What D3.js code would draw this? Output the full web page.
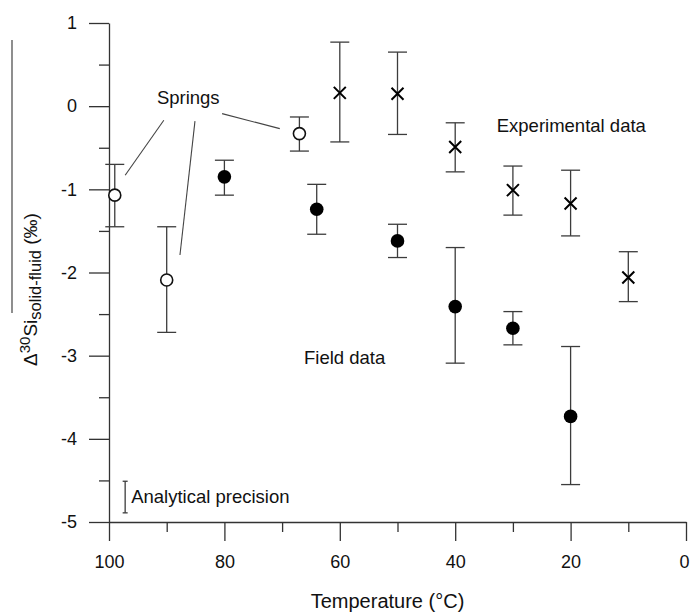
<!DOCTYPE html>
<html>
<head>
<meta charset="utf-8">
<script src="https://cdn.jsdelivr.net/npm/d3@7"></script>
<style>
  body { margin: 0; background: #fff; }
  svg { font-family: "Liberation Sans", Arial, sans-serif; }
</style>
</head>
<body>
<script>
// Springs (open circles)
const springT = [99, 90, 67];
const springV = [-1.07, -2.09, -0.33];
const springHi = [-0.70, -1.45, -0.13];
const springLo = [-1.45, -2.72, -0.54];

// Field data (filled circles)
const fieldT = [80, 64, 50, 40, 30, 20];
const fieldV = [-0.85, -1.24, -1.62, -2.41, -2.67, -3.73];
const fieldHi = [-0.65, -0.94, -1.42, -1.70, -2.47, -2.89];
const fieldLo = [-1.07, -1.54, -1.82, -3.09, -2.87, -4.55];

// Experimental data (crosses)
const expT = [60, 50, 40, 30, 20, 10];
const expV = [0.16, 0.15, -0.49, -1.01, -1.17, -2.06];
const expHi = [0.77, 0.65, -0.20, -0.72, -0.77, -1.75];
const expLo = [-0.43, -0.34, -0.79, -1.31, -1.56, -2.35];

// ticks
const xMajor = [100, 80, 60, 40, 20, 0];
const xMinor = [90, 70, 50, 30, 10];
const yMajor = [1, 0, -1, -2, -3, -4, -5];
const yMinor = [0.5, -0.5, -1.5, -2.5, -3.5, -4.5];

// annotations, in data units
const springsLabel = { t: 91.7, v: 0.03, text: 'Springs' };
const springLeaders = [
    [[90.5, -0.17], [97.2, -0.83]],
    [[85.1, -0.18], [87.7, -1.79]],
    [[80.4, -0.09], [70.4, -0.27]],
];
const expLabel = { t: 32.8, v: -0.31, text: 'Experimental data' };
const fieldLabel = { t: 66.2, v: -3.10, text: 'Field data' };
const precision = { t: 97.2, hi: -4.51, lo: -4.89, text: 'Analytical precision' };

const width = 690, height = 614;
const margin = { left: 109, right: 4, top: 23, bottom: 92 };

const svg = d3.select('body').append('svg')
    .attr('width', width)
    .attr('height', height);

const x = d3.scaleLinear().domain([100, 0]).range([margin.left, width - margin.right]);
const y = d3.scaleLinear().domain([-5, 1]).range([height - margin.bottom, margin.top]);

const axisColor = '#333';
const barColor = '#3c3c3c';

// x axis
const gx = svg.append('g')
    .attr('transform', `translate(0,${y(-5)})`)
    .call(d3.axisBottom(x).tickValues(xMajor).tickSize(19).tickSizeOuter(0).tickPadding(14)
        .tickFormat((d) => String(d)));
gx.selectAll('.tick text').filter((d) => d === 0).attr('dx', -2);
svg.append('g')
    .attr('transform', `translate(0,${y(-5)})`)
    .call(d3.axisBottom(x).tickValues(xMinor).tickSize(10).tickFormat(''))
    .call((g) => g.select('.domain').remove());

// y axis
const gy = svg.append('g')
    .attr('transform', `translate(${x(100)},0)`)
    .call(d3.axisLeft(y).tickValues(yMajor).tickSize(20).tickSizeOuter(0).tickPadding(12)
        .tickFormat((d) => String(d)));
svg.append('g')
    .attr('transform', `translate(${x(100)},0)`)
    .call(d3.axisLeft(y).tickValues(yMinor).tickSize(10).tickFormat(''))
    .call((g) => g.select('.domain').remove());

svg.selectAll('.domain, .tick line')
    .attr('stroke', axisColor)
    .attr('stroke-width', 1.3);
svg.selectAll('.tick text')
    .attr('fill', '#111')
    .style('font-size', '18px')
    .style('font-family', '"Liberation Sans", Arial, sans-serif');

// axis titles
svg.append('text')
    .attr('x', x(50) - 10)
    .attr('y', 608)
    .attr('text-anchor', 'middle')
    .attr('fill', '#111')
    .style('font-size', '20px')
    .text('Temperature (°C)');

const ylab = svg.append('text')
    .attr('transform', 'translate(37,366) rotate(-90)')
    .attr('fill', '#111')
    .style('font-size', '19px');
ylab.append('tspan').text('Δ');
ylab.append('tspan').attr('dy', -7).style('font-size', '15px').text('30');
ylab.append('tspan').attr('dy', 7).text('Si');
ylab.append('tspan').attr('dy', 4).style('font-size', '16.5px').text('solid-fluid');
ylab.append('tspan').attr('dy', -4).text(' (‰)');
svg.append('line')
    .attr('x1', 12).attr('x2', 12)
    .attr('y1', 40).attr('y2', 313)
    .attr('stroke', '#444')
    .attr('stroke-width', 1.2);

// error bars
function errorBars(ts, his, los, cap) {
    const g = svg.append('g').attr('stroke', barColor).attr('stroke-width', 1.3).attr('fill', 'none');
    ts.forEach((t, i) => {
        g.append('line').attr('x1', x(t)).attr('x2', x(t)).attr('y1', y(his[i])).attr('y2', y(los[i]));
        g.append('line').attr('x1', x(t) - cap).attr('x2', x(t) + cap).attr('y1', y(his[i])).attr('y2', y(his[i]));
        g.append('line').attr('x1', x(t) - cap).attr('x2', x(t) + cap).attr('y1', y(los[i])).attr('y2', y(los[i]));
    });
}
errorBars(springT, springHi, springLo, 9.5);
errorBars(fieldT, fieldHi, fieldLo, 9.5);
errorBars(expT, expHi, expLo, 9.5);
errorBars([precision.t], [precision.hi], [precision.lo], 2.5);

// markers
svg.append('g').selectAll('circle')
    .data(springT)
    .join('circle')
    .attr('cx', (d) => x(d))
    .attr('cy', (d, i) => y(springV[i]))
    .attr('r', 6)
    .attr('fill', '#fff')
    .attr('stroke', '#111')
    .attr('stroke-width', 1.6);

svg.append('g').selectAll('circle')
    .data(fieldT)
    .join('circle')
    .attr('cx', (d) => x(d))
    .attr('cy', (d, i) => y(fieldV[i]))
    .attr('r', 6.8)
    .attr('fill', '#000');

svg.append('g').selectAll('path')
    .data(expT)
    .join('path')
    .attr('d', (d, i) => {
        const cx = x(d), cy = y(expV[i]), s = 6;
        return `M${cx - s},${cy - s}L${cx + s},${cy + s}M${cx - s},${cy + s}L${cx + s},${cy - s}`;
    })
    .attr('stroke', '#000')
    .attr('stroke-width', 2);

// annotations
const annot = svg.append('g').attr('fill', '#111').style('font-size', '18.5px');
[springsLabel, expLabel, fieldLabel].forEach((a) => {
    annot.append('text').attr('x', x(a.t)).attr('y', y(a.v)).text(a.text);
});
annot.append('text')
    .attr('x', x(precision.t) + 6)
    .attr('y', y(-4.77))
    .text(precision.text);

svg.append('g').selectAll('line')
    .data(springLeaders)
    .join('line')
    .attr('x1', (d) => x(d[0][0]))
    .attr('y1', (d) => y(d[0][1]))
    .attr('x2', (d) => x(d[1][0]))
    .attr('y2', (d) => y(d[1][1]))
    .attr('stroke', '#444')
    .attr('stroke-width', 1.1);
</script>
</body>
</html>
